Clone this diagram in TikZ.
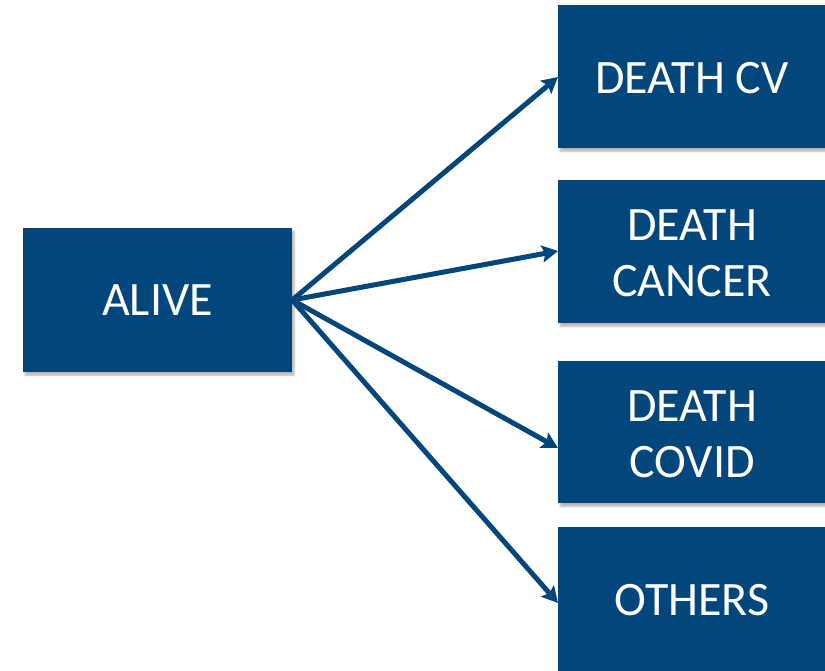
\documentclass[tikz,border=0pt]{standalone}
\usepackage{fontspec}
\setmainfont{Carlito}
\usetikzlibrary{arrows.meta,shadows.blur}
\definecolor{boxblue}{RGB}{3,70,123}
\begin{document}
\begin{tikzpicture}[x=1pt,y=-1pt,
  statefont/.style={font=\fontsize{48}{56}\selectfont},
  statebox/.style={fill=boxblue,draw=none,text=white,align=center,
    inner sep=0pt,statefont,
    blur shadow={shadow xshift=2pt,shadow yshift=-3pt,shadow blur steps=6,shadow opacity=30}},
  statelabel/.style={text=white,align=center,statefont},
  flow/.style={draw=boxblue,line width=5pt,
    -{Stealth[length=16pt,width=17pt,inset=3pt]}}]
  \useasboundingbox (0,0) rectangle (825,671);
  % states
  \node[statebox,minimum width=269pt,minimum height=144pt] (alive) at (157.5,300) {ALIVE};
  \node[statebox,minimum width=290pt,minimum height=143pt,anchor=north west] (cv) at (558,5) {};
  \node[statelabel] (cvtext) at (692,78) {DEATH CV};
  \node[statebox,minimum width=290pt,minimum height=143pt,anchor=north west] (cancer) at (558,180) {};
  \node[statelabel] (cancertext) at (692,253) {DEATH\\CANCER};
  \node[statebox,minimum width=290pt,minimum height=142pt,anchor=north west] (covid) at (558,361) {};
  \node[statelabel] (covidtext) at (692,434) {DEATH\\COVID};
  \node[statebox,minimum width=290pt,minimum height=145pt,anchor=north west] (others) at (558,527) {};
  \node[statelabel] (otherstext) at (692,600) {OTHERS};
  % transitions
  \coordinate (src) at (alive.east);
  \coordinate (tcv) at (558,77);
  \coordinate (tcancer) at (558,251);
  \coordinate (tcovid) at (558,448);
  \coordinate (tothers) at (558,603);
  \draw[flow] (src) -- (tcv);
  \draw[flow] (src) -- (tcancer);
  \draw[flow] (src) -- (tcovid);
  \draw[flow] (src) -- (tothers);
\end{tikzpicture}
\end{document}
